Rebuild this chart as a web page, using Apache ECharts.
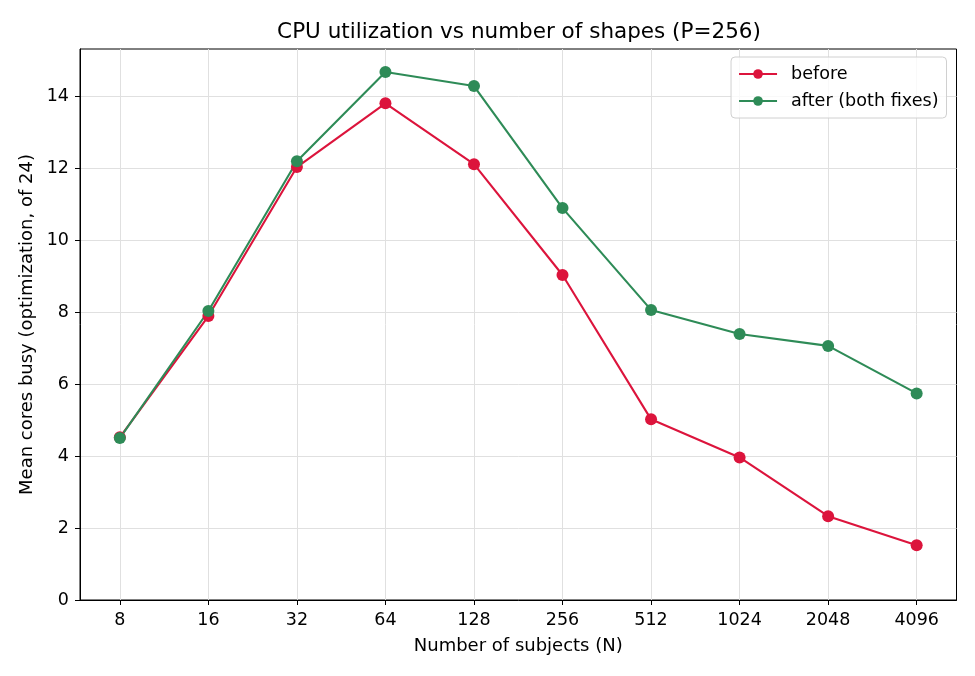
<!DOCTYPE html>
<html>
<head>
<meta charset="utf-8">
<script src="https://cdn.jsdelivr.net/npm/echarts@6/dist/echarts.min.js"></script>
<style>
  html, body { margin: 0; padding: 0; background: #fff; }
  #container { width: 975px; height: 676px; }
</style>
</head>
<body>
<div id="container"></div>
<script>
// N values (log2 spaced), shown as category labels
const categories = ['8', '16', '32', '64', '128', '256', '512', '1024', '2048', '4096'];
const beforeValues = [4.52, 7.89, 12.03, 13.80, 12.11, 9.03, 5.02, 3.96, 2.33, 1.52];
const afterValues = [4.50, 8.03, 12.19, 14.67, 14.28, 10.89, 8.06, 7.39, 7.06, 5.74];
const yTicks = [0, 2, 4, 6, 8, 10, 12, 14];

const font = 'DejaVu Sans';
const xIdx = categories.map(function (c, i) { return i; });

function pairs(vals) {
    return vals.map(function (v, i) { return [i, v]; });
}

var dom = document.getElementById('container');
var chart = echarts.init(dom);

chart.setOption({
    animation: false,
    backgroundColor: '#fff',
    textStyle: { fontFamily: font },
    title: {
        text: 'CPU utilization vs number of shapes (P=256)',
        left: 514,          // about the centre of the plot area
        textAlign: 'center',
        top: 16,
        textStyle: { fontFamily: font, fontSize: 21.5, fontWeight: 'normal', color: '#000' }
    },
    grid: {
        left: 80, right: 18.5, top: 49, bottom: 76,
        show: true, borderColor: '#000', borderWidth: 1
    },
    legend: {
        orient: 'vertical',
        right: 28.5,
        top: 57,
        padding: [7, 8, 7, 7],
        itemGap: 7,
        itemWidth: 38,
        itemHeight: 12,
        borderColor: '#d0d0d0',
        borderWidth: 1,
        borderRadius: 4,
        backgroundColor: 'rgba(255,255,255,0.8)',
        textStyle: { fontFamily: font, fontSize: 17.6, color: '#000', lineHeight: 20, padding: [0, 0, 0, 9] },
        data: ['before', 'after (both fixes)']
    },
    xAxis: {
        type: 'value',
        min: -0.45,
        max: 9.45,
        name: 'Number of subjects (N)',
        nameLocation: 'middle',
        nameGap: 37,
        nameTextStyle: { fontFamily: font, fontSize: 18, color: '#000' },
        axisLine: { show: true, onZero: false, lineStyle: { color: '#000', width: 1 } },
        axisTick: { show: true, inside: false, customValues: xIdx, length: 5, lineStyle: { color: '#000' } },
        axisLabel: {
            customValues: xIdx,
            fontFamily: font, fontSize: 17.5, color: '#000', margin: 11,
            formatter: function (v) { return categories[Math.round(v)]; }
        },
        splitLine: { show: true, lineStyle: { color: '#e0e0e0', width: 1 } }
    },
    yAxis: {
        type: 'value',
        min: 0,
        max: 15.31,
        name: 'Mean cores busy (optimization, of 24)',
        nameLocation: 'middle',
        nameGap: 44,
        nameTextStyle: { fontFamily: font, fontSize: 18, color: '#000' },
        axisLine: { show: true, onZero: false, lineStyle: { color: '#000', width: 1 } },
        axisTick: { show: true, inside: false, customValues: yTicks, length: 5, lineStyle: { color: '#000' } },
        axisLabel: { customValues: yTicks, fontFamily: font, fontSize: 17.5, color: '#000', margin: 11 },
        splitLine: { show: true, lineStyle: { color: '#e0e0e0', width: 1 } }
    },
    series: [
        {
            name: 'before',
            type: 'line',
            data: pairs(beforeValues),
            symbol: 'circle',
            symbolSize: 12,
            itemStyle: { color: '#DC143C' },
            lineStyle: { color: '#DC143C', width: 2.1 }
        },
        {
            name: 'after (both fixes)',
            type: 'line',
            data: pairs(afterValues),
            symbol: 'circle',
            symbolSize: 12,
            itemStyle: { color: '#2E8B57' },
            lineStyle: { color: '#2E8B57', width: 2.1 }
        }
    ]
});
</script>
</body>
</html>
